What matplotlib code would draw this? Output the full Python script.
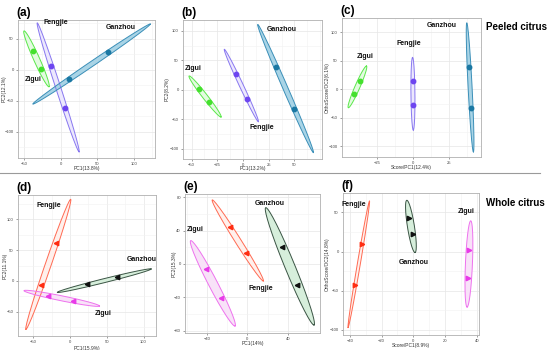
import numpy as np
import matplotlib
matplotlib.use('Agg')
import matplotlib.pyplot as plt

W, H = 550, 350

plt.rcParams['font.family'] = ['Liberation Sans', 'DejaVu Sans']

# ---- data ----
groups_top = ['Zigui', 'Fengjie', 'Ganzhou']
groups_bot = ['Fengjie', 'Zigui', 'Ganzhou']

# (a) PCA peeled
a_pt_x = [[-37.7, -26.8], [-13.0, 6.0], [11.0, 64.0]]
a_pt_y = [[30.6, 1.6], [6.5, -61.0], [-14.5, 29.0]]
a_ell = [[(-50, 63), (-16, -27)], [(-32, 76), (25, -132)], [(-38, -55), (122, 74)]]
a_lab = [(-37.7, -16), (-6.4, 77), (82, 68)]

# (b) PLS-DA peeled
b_pt_x = [[-42.8, -32.8], [-6.8, 3.9], [32.1, 49.6]]
b_pt_y = [[1.7, -20.9], [26.6, -15.3], [38.4, -32.0]]
b_ell = [[(-52.5, 23.7), (-21.4, -45.8)], [(-18.2, 69), (14.9, -53.7)], [(14.3, 111), (68.4, -106)]]
b_lab = [(-48.6, 37), (18.5, -64), (38, 102)]

# (c) OPLS-DA peeled
c_pt_x = [[-37.1, -41.2], [-0.3, -0.3], [38.9, 40.3]]
c_pt_y = [[15.1, -8.8], [15.1, -27.6], [39.8, -33.5]]
c_ell = [[(-45.1, -32.4), (-32.4, 41)], [(-0.3, 56.3), (0.2, -71.6)], [(37.5, 117), (42.1, -110)]]
c_lab = [(-33, 58.6), (-2.6, 80), (20.3, 113)]

# (d) PCA whole
d_pt_x = [[-19.1, -39.1], [-30.4, 3.7], [22.7, 64.4]]
d_pt_y = [[62.2, -6.5], [-23.8, -32.0], [-5.4, 6.5]]
d_ell = [[(0.9, 132.6), (-60, -78.4)], [(-62.7, -15.7), (40, -40.6)], [(-17.3, -18.4), (110.4, 19.5)]]
d_lab = [(-28.6, 122), (45, -52), (97.7, 35)]

# (e) PLS-DA whole
e_pt_x = [[-17.1, -1.3], [-40.8, -26.3], [34.0, 49.1]]
e_pt_y = [[44.0, 12.8], [-6.4, -40.5], [20.0, -25.2]]
e_ell = [[(-34.6, 76.9), (15.8, -20.4)], [(-55.9, 28), (-12.1, -74.5)], [(18.2, 67.6), (65.9, -73.3)]]
e_lab = [(13.5, -29.2), (-51, 41.7), (22.4, 73)]

# (f) OPLS-DA whole
f_pt_x = [[-32.2, -36.6], [35.1, 34.5], [-2.5, -0.4]]
f_pt_y = [[9.7, -42.2], [2.2, -33.7], [43.0, 22.0]]
f_ell = [[(-27.6, 64.6), (-41.1, -97)], [(36.2, 39.2), (33.9, -70.9)], [(-4.1, 65.4), (1.1, -1.3)]]
f_lab = [(-37.6, 60), (33.5, 50.6), (0.4, -13.9)]

TOP_COLORS = ['#45e02e', '#6d45f0', '#1b78a3']
TOP_EDGE = ['#5ae84a', '#8877f0', '#3b8fb8']
TOP_FILL = ['#e3fbe0', '#ece8fd', '#a9d4e6']
BOT_COLORS = ['#ff2d12', '#e83ae8', '#111111']
BOT_EDGE = ['#ff6a52', '#ee72ee', '#3a5444']
BOT_FILL = ['#fff0ec', '#f8e2f8', '#d6eedb']


def make_axes(fig, left, top, right, bottom):
    ax = fig.add_axes([left / W, 1 - bottom / H, (right - left) / W, (bottom - top) / H])
    ax.set_facecolor('white')
    for s in ax.spines.values():
        s.set_color('#b0b0b0')
        s.set_linewidth(0.6)
    ax.tick_params(labelsize=3, length=1.5, width=0.4, color='#555555', labelcolor='#444444', pad=1.5)
    ax.set_axisbelow(True)
    return ax, (right - left), (bottom - top)


def draw_ellipse(ax, e1, e2, width_px, wpx, hpx, edge, fill):
    x0, x1 = ax.get_xlim()
    y0, y1 = ax.get_ylim()
    sx = wpx / (x1 - x0)
    sy = hpx / (y1 - y0)
    e1 = np.array(e1, float)
    e2 = np.array(e2, float)
    c = (e1 + e2) / 2
    u = (e2 - e1) / 2
    U = np.array([u[0] * sx, u[1] * sy])
    P = np.array([-U[1], U[0]]) / np.hypot(*U)
    v = np.array([P[0] * width_px / 2 / sx, P[1] * width_px / 2 / sy])
    t = np.linspace(0, 2 * np.pi, 200)
    xs = c[0] + np.cos(t) * u[0] + np.sin(t) * v[0]
    ys = c[1] + np.cos(t) * u[1] + np.sin(t) * v[1]
    ax.fill(xs, ys, color=fill, zorder=2, lw=0)
    ax.plot(xs, ys, color=edge, lw=0.7, zorder=3)


def draw_panel(fig, box, tag, xlim, ylim, xticks, yticks, xlabel, ylabel, label_px,
               pt_x, pt_y, ells, widths, labs, names, colors, edges, fills, marker):
    ax, wpx, hpx = make_axes(fig, *box)
    ax.set_xticks(xticks)
    ax.set_yticks(yticks)
    mx = np.diff(xticks).mean() / 2
    my = np.diff(yticks).mean() / 2
    ax.set_xticks(np.arange(xticks[0] - 4 * mx, xticks[-1] + 4 * mx, mx), minor=True)
    ax.set_yticks(np.arange(yticks[0] - 4 * my, yticks[-1] + 4 * my, my), minor=True)
    ax.set_xlim(*xlim)
    ax.set_ylim(*ylim)
    ax.tick_params(which='minor', length=0)
    ax.grid(True, which='major', color='#e6e6e6', lw=0.5)
    ax.grid(True, which='minor', color='#f2f2f2', lw=0.4)
    ax.set_xlabel(xlabel, fontsize=3.5, color='#333333')
    ax.set_ylabel(ylabel, fontsize=3.5, color='#333333')
    # label positions in figure pixels -> axes fraction
    left, top, right, bottom = box
    ax.yaxis.set_label_coords((label_px[0] - left) / wpx, 0.5)
    ax.xaxis.set_label_coords(0.5, (bottom - label_px[1]) / hpx)

    for i, name in enumerate(names):
        draw_ellipse(ax, ells[i][0], ells[i][1], widths[i], wpx, hpx, edges[i], fills[i])
        ax.plot(pt_x[i], pt_y[i], linestyle='none', marker=marker, ms=3.2,
                color=colors[i], mec=colors[i], zorder=4)
        ax.text(labs[i][0], labs[i][1], name, fontsize=5, fontweight='bold',
                ha='center', va='center', color='#111111', zorder=5)

    fig.text((box[0] - 2) / W, 1 - (box[1] - 7) / H, tag, fontsize=8.5,
             fontweight='bold', ha='left', va='center')
    return ax


def main():
    fig = plt.figure(figsize=(W / 100, H / 100), dpi=100)

    draw_panel(fig, (18, 20, 155, 158), '(a)', (-58.2, 128.5), (-142, 80.6),
               [-50, 0, 50, 100], [-100, -50, 0, 50], 'PC1(13.8%)', 'PC2(12.1%)', (7, 166),
               a_pt_x, a_pt_y, a_ell, [6, 5, 5], a_lab, groups_top,
               TOP_COLORS, TOP_EDGE, TOP_FILL, 'o')
    draw_panel(fig, (183, 20, 322, 159), '(b)', (-58.4, 76.8), (-117, 118.6),
               [-50, -25, 0, 25, 50], [-100, -50, 0, 50, 100], 'PC1(13.2%)', 'PC2(8.2%)', (170, 166),
               b_pt_x, b_pt_y, b_ell, [5, 4, 5], b_lab, groups_top,
               TOP_COLORS, TOP_EDGE, TOP_FILL, 'o')
    draw_panel(fig, (342, 18, 481, 157), '(c)', (-49.5, 47.4), (-119, 125.5),
               [-25, 0, 25], [-100, -50, 0, 50, 100], 'Score/PC1(12.4%)', 'OrthoScore/OC2(6.1%)', (330, 165),
               c_pt_x, c_pt_y, c_ell, [5, 4, 4], c_lab, groups_top,
               TOP_COLORS, TOP_EDGE, TOP_FILL, 'o')

    draw_panel(fig, (18, 195, 156, 336), '(d)', (-70.8, 117), (-89.3, 139.6),
               [-50, 0, 50, 100], [-50, 0, 50, 100], 'PC1(15.9%)', 'PC2(11.1%)', (8, 346),
               d_pt_x, d_pt_y, d_ell, [6, 5, 4], d_lab, groups_bot,
               BOT_COLORS, BOT_EDGE, BOT_FILL, '<')
    draw_panel(fig, (185, 194, 320, 333), '(e)', (-61.5, 71.8), (-82.9, 84),
               [-40, 0, 40], [-80, -40, 0, 40, 80], 'PC1(14%)', 'PC2(15.3%)', (177, 341),
               e_pt_x, e_pt_y, e_ell, [6, 9, 10], e_lab, groups_bot,
               BOT_COLORS, BOT_EDGE, BOT_FILL, '<')
    draw_panel(fig, (343, 193, 479, 335), '(f)', (-44.3, 41.4), (-106.6, 74.7),
               [-40, -20, 0, 20, 40], [-100, -50, 0, 50], 'Score/PC1(8.9%)', 'OrthoScore/OC2(14.8%)', (330, 343),
               f_pt_x, f_pt_y, f_ell, [3, 7, 7], f_lab, groups_bot,
               BOT_COLORS, BOT_EDGE, BOT_FILL, '>')

    fig.text(517 / W, 1 - 27 / H, 'Peeled citrus', fontsize=7, fontweight='bold',
             ha='center', va='center')
    fig.text(515 / W, 1 - 203 / H, 'Whole citrus', fontsize=7, fontweight='bold',
             ha='center', va='center')
    fig.add_artist(plt.Line2D([0, 540 / W], [1 - 172.5 / H, 1 - 172.5 / H],
                              color='#9a9a9a', lw=0.8, transform=fig.transFigure))

    fig.savefig('out.png', dpi=100, facecolor='white')


if __name__ == '__main__':
    main()
